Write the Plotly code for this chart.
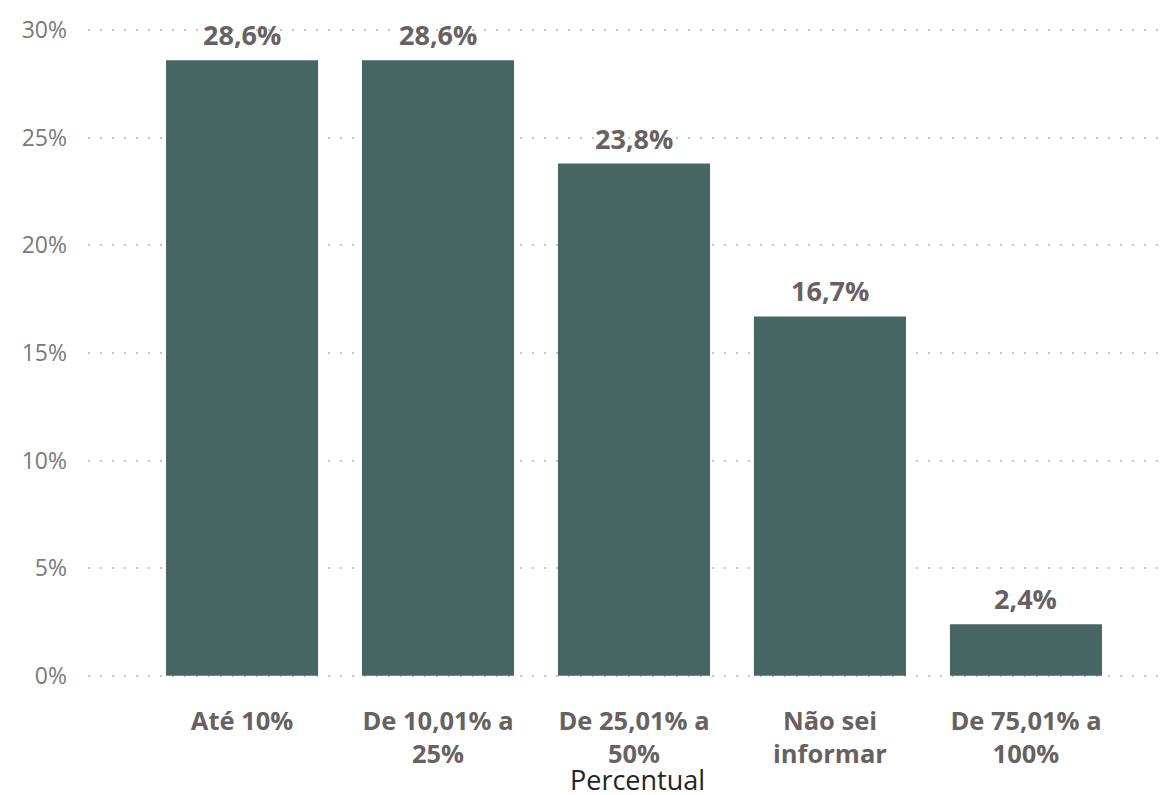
import plotly.graph_objects as go

categories = ["Até 10%", "De 10,01% a<br>25%", "De 25,01% a<br>50%", "Não sei<br>informar", "De 75,01% a<br>100%"]
values = [28.6, 28.6, 23.8, 16.7, 2.4]
y_ticks = [0, 5, 10, 15, 20, 25, 30]
y_tick_text = [f"{v}%" for v in y_ticks]
x_title = "Percentual"

GRAY = "#67625F"

fig = go.Figure(go.Bar(
    x=categories, y=values,
    marker=dict(color="#486764", line=dict(width=0)),
    hoverinfo="skip",
))

for c, v in zip(categories, values):
    fig.add_annotation(
        x=c, y=v, text="<b>" + f"{v:.1f}".replace(".", ",") + "%</b>",
        showarrow=False, yanchor="bottom", yshift=5,
        font=dict(family="Open Sans", size=27, color=GRAY),
    )

# axis title placed under the middle category
fig.add_annotation(
    x=categories[2], y=0, yref="paper", text=x_title,
    showarrow=False, yanchor="middle", yshift=-101, xshift=3,
    font=dict(family="Open Sans", size=27, color="#252423"),
)

fig.update_layout(
    width=1162, height=787,
    margin=dict(l=80, r=0, t=20, b=117),
    paper_bgcolor="white", plot_bgcolor="white",
    separators=",.",
    bargap=0.224,
    showlegend=False,
    font=dict(family="Open Sans"),
    xaxis=dict(
        range=[-0.786, 4.735],
        automargin=False,
        tickfont=dict(family="Open Sans", size=25.5, color=GRAY),
        ticklabelstandoff=25,
        showgrid=False, showline=False, zeroline=False,
        tickvals=categories,
        ticktext=["<b>" + c.replace("<br>", "</b><br><b>") + "</b>" for c in categories],
    ),
    yaxis=dict(
        range=[-0.1, 30.1], tickvals=y_ticks, ticktext=y_tick_text,
        automargin=False,
        tickfont=dict(family="Open Sans", size=23, color="#7A7A7A"),
        showgrid=True, gridcolor="#C8C6C4", griddash="2px,10px", gridwidth=2,
        zeroline=False, showline=False,
        ticklabelstandoff=20,
    ),
)

fig.write_html("out.html")
